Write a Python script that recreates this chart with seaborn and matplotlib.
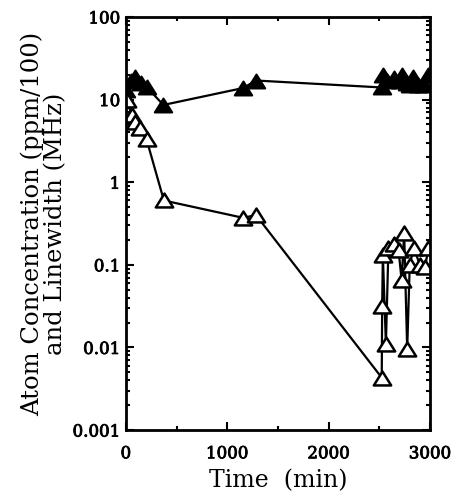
import matplotlib
matplotlib.use("Agg")
import matplotlib.pyplot as plt
import matplotlib.ticker as mticker
import matplotlib.patheffects as pe
from matplotlib.path import Path
import seaborn as sns
import pandas as pd

# Filled triangles (linewidth, MHz)
filled_time = [5, 50, 90, 150, 210, 370, 1158, 1283, 2524, 2537, 2580, 2640, 2700, 2724, 2770, 2800, 2833, 2880, 2940, 2981]
filled_value = [13, 17, 19, 16, 14, 8.6, 13.8, 17, 14, 20, 17, 18, 17, 20, 16, 15, 19, 15, 15, 20]

# Open triangles (atom concentration, ppm/100)
open_time = [10, 56, 89, 138, 204, 375, 1158, 1283, 2524, 2528, 2535, 2565, 2590, 2640, 2690, 2720, 2745, 2775, 2800, 2840, 2900, 2950, 2985]
open_value = [10, 6.5, 5.4, 4.5, 3.3, 0.6, 0.37, 0.40, 0.0043, 0.032, 0.13, 0.011, 0.16, 0.18, 0.15, 0.065, 0.24, 0.0095, 0.10, 0.16, 0.10, 0.093, 0.16]

y_ticks = [0.001, 0.01, 0.1, 1, 10, 100]
y_tick_labels = ["0.001", "0.01", "0.1", "1", "10", "100"]
x_ticks = [0, 1000, 2000, 3000]

sns.set_style("ticks")
plt.rcParams['font.family'] = ['DejaVu Serif']
for k in ["text.color", "axes.labelcolor", "xtick.color", "ytick.color", "axes.edgecolor"]:
    plt.rcParams[k] = "black"

# slightly flattened triangle, like the original symbols
tri = Path([(0, 0.8), (-1, -0.8), (1, -0.8), (0, 0.8)],
           [Path.MOVETO, Path.LINETO, Path.LINETO, Path.CLOSEPOLY])

fig = plt.figure(figsize=(4.56, 4.98), dpi=100)
ax = fig.add_axes([0.276, 0.1365, 0.667, 0.8295])

df_f = pd.DataFrame({"t": filled_time, "v": filled_value})
df_o = pd.DataFrame({"t": open_time, "v": open_value})

sns.lineplot(data=df_f, x="t", y="v", ax=ax, sort=False, estimator=None,
             color="black", linewidth=1.6, marker=tri, markersize=12.5,
             markerfacecolor="black", markeredgecolor="black", markeredgewidth=1.5)
sns.lineplot(data=df_o, x="t", y="v", ax=ax, sort=False, estimator=None,
             color="black", linewidth=1.6, marker=tri, markersize=12.5,
             markerfacecolor="white", markeredgecolor="black", markeredgewidth=1.8)

ax.set_yscale("log")
ax.set_xlim(0, 3000)
ax.set_ylim(0.001, 100)
ax.set_yticks(y_ticks)
ax.yaxis.set_major_formatter(mticker.FixedFormatter(y_tick_labels))
ax.yaxis.set_minor_locator(mticker.LogLocator(base=10, subs=range(2, 10), numticks=20))
ax.yaxis.set_minor_formatter(mticker.NullFormatter())
ax.set_xticks(x_ticks)
ax.xaxis.set_minor_locator(mticker.MultipleLocator(500))

for s in ax.spines.values():
    s.set_visible(True)
    s.set_linewidth(2)
    s.set_color("black")
ax.tick_params(which="both", direction="in", top=True, right=True, width=1.5, colors="black")
ax.tick_params(which="major", length=6, labelsize=12)
ax.tick_params(axis="x", which="major", pad=11)
ax.tick_params(axis="y", which="major", pad=4)
ax.tick_params(which="minor", length=3)
stroke = [pe.withStroke(linewidth=0.6, foreground="black")]
for lab in ax.get_xticklabels() + ax.get_yticklabels():
    lab.set_path_effects(stroke)

ax.set_xlabel("Time  (min)", fontsize=17, labelpad=5)
ax.set_ylabel("Atom Concentration (ppm/100)\nand Linewidth (MHz)", fontsize=17.5,
              linespacing=1.0, labelpad=4)

fig.savefig("out.png", dpi=100)
